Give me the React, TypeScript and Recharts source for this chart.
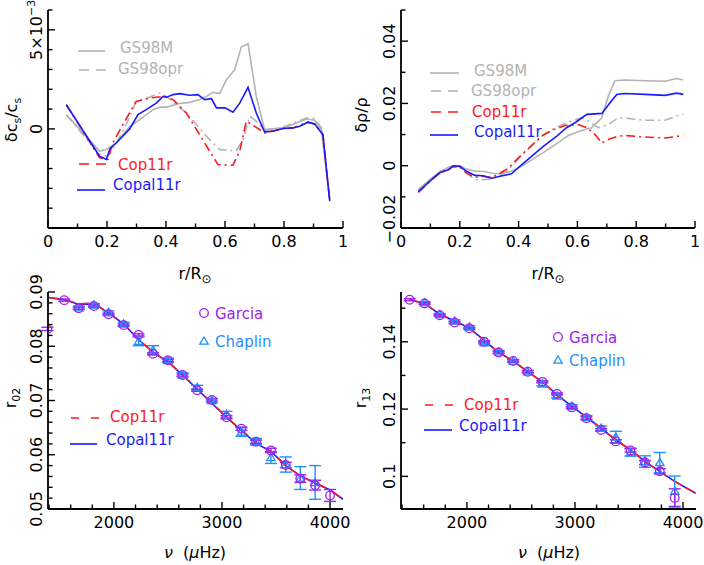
import React from "react";
import {
    ComposedChart,
    Line,
    Scatter,
    XAxis,
    YAxis,
    ErrorBar,
    Legend
} from "recharts";

const FONT = "'DejaVu Sans', sans-serif";
const GRAY = "#b3b3b3";
const RED = "#ff1a1a";
const BLUE = "#1a1aff";
const PURPLE = "#a020f0";
const SKY = "#1e90ff";

// ---- top left: sound speed differences (units of 1e-3) ----
const rCsGS98M = [0.062, 0.175, 0.198, 0.232, 0.277, 0.311, 0.356, 0.379, 0.401, 0.446, 0.480, 0.514, 0.537, 0.559, 0.582, 0.605, 0.633, 0.655, 0.678, 0.706, 0.734, 0.797, 0.830, 0.876, 0.904, 0.927, 0.955];
const csGS98M = [0.72, -1.12, -1.04, -0.70, 0.13, 0.47, 0.97, 1.10, 1.10, 1.28, 1.34, 1.48, 1.64, 1.85, 1.78, 2.48, 2.99, 4.13, 4.30, 1.64, -0.03, 0.05, 0.22, 0.50, 0.44, -0.03, -3.56];

const rCsGS98opr = [0.062, 0.175, 0.203, 0.232, 0.265, 0.299, 0.345, 0.379, 0.401, 0.435, 0.469, 0.503, 0.537, 0.582, 0.638, 0.661, 0.684, 0.706, 0.734, 0.797, 0.876, 0.904, 0.927, 0.955];
const csGS98opr = [0.72, -1.30, -1.38, -0.70, 0.22, 1.39, 1.61, 1.81, 1.64, 1.22, 0.80, 0.22, -0.37, -1.04, -1.12, -0.54, 0.64, 0.39, -0.07, 0.08, 0.55, 0.52, 0.05, -3.56];

const rCsCop11r = [0.062, 0.175, 0.203, 0.220, 0.254, 0.299, 0.345, 0.390, 0.424, 0.469, 0.514, 0.548, 0.576, 0.627, 0.650, 0.672, 0.701, 0.734, 0.797, 0.830, 0.881, 0.904, 0.932, 0.955];
const csCop11r = [1.22, -1.46, -1.54, -0.70, 0.22, 1.39, 1.56, 1.64, 1.48, 0.80, -0.29, -1.12, -1.80, -1.83, -1.12, 0.39, 0.13, -0.20, 0.02, 0.05, 0.34, 0.25, -0.29, -3.64];

const rCsCopal11r = [0.062, 0.175, 0.198, 0.210, 0.232, 0.277, 0.305, 0.333, 0.367, 0.390, 0.402, 0.424, 0.446, 0.480, 0.508, 0.531, 0.554, 0.571, 0.600, 0.627, 0.650, 0.678, 0.706, 0.734, 0.763, 0.797, 0.830, 0.853, 0.881, 0.904, 0.932, 0.955];
const csCopal11r = [1.22, -1.38, -1.54, -1.00, -0.70, 0.00, 0.72, 0.97, 1.30, 1.64, 1.60, 1.73, 1.78, 1.70, 1.73, 1.48, 1.53, 1.06, 1.06, 0.84, 1.30, 2.10, 0.80, -0.15, -0.12, 0.02, 0.05, 0.13, 0.34, 0.25, -0.29, -3.64];

// ---- top right: density differences ----
const rRhoGS98M = [0.059, 0.104, 0.133, 0.161, 0.178, 0.200, 0.223, 0.252, 0.280, 0.308, 0.337, 0.376, 0.410, 0.450, 0.490, 0.530, 0.569, 0.614, 0.648, 0.683, 0.705, 0.728, 0.762, 0.830, 0.898, 0.938, 0.960];
const rhoGS98M = [-0.0077, -0.0040, -0.0018, -0.0005, 0.0000, 0.0000, -0.0011, -0.0018, -0.0018, -0.0024, -0.0026, -0.0018, -0.0002, 0.0022, 0.0046, 0.0071, 0.0097, 0.0113, 0.0122, 0.0154, 0.0224, 0.0273, 0.0275, 0.0273, 0.0271, 0.0280, 0.0275];

const rRhoGS98opr = [0.059, 0.104, 0.133, 0.161, 0.178, 0.200, 0.223, 0.252, 0.280, 0.308, 0.337, 0.365, 0.399, 0.444, 0.484, 0.524, 0.569, 0.614, 0.643, 0.671, 0.705, 0.739, 0.762, 0.830, 0.898, 0.938, 0.960];
const rhoGS98opr = [-0.0080, -0.0042, -0.0020, -0.0008, -0.0003, -0.0004, -0.0024, -0.0045, -0.0045, -0.0043, -0.0032, -0.0013, 0.0022, 0.0062, 0.0100, 0.0122, 0.0140, 0.0154, 0.0140, 0.0122, 0.0132, 0.0154, 0.0153, 0.0146, 0.0146, 0.0160, 0.0165];

const rRhoCop11r = [0.059, 0.104, 0.133, 0.161, 0.178, 0.200, 0.223, 0.252, 0.280, 0.308, 0.337, 0.365, 0.399, 0.444, 0.478, 0.512, 0.558, 0.603, 0.632, 0.660, 0.683, 0.705, 0.739, 0.762, 0.830, 0.898, 0.938, 0.960];
const rhoCop11r = [-0.0086, -0.0045, -0.0022, -0.0013, -0.0002, -0.0004, -0.0024, -0.0037, -0.0034, -0.0038, -0.0024, -0.0008, 0.0025, 0.0065, 0.0095, 0.0113, 0.0129, 0.0132, 0.0122, 0.0100, 0.0073, 0.0084, 0.0095, 0.0097, 0.0092, 0.0089, 0.0094, 0.0097];

const rRhoCopal11r = [0.059, 0.104, 0.133, 0.161, 0.178, 0.200, 0.223, 0.252, 0.280, 0.308, 0.337, 0.376, 0.410, 0.444, 0.484, 0.530, 0.563, 0.592, 0.632, 0.683, 0.711, 0.734, 0.762, 0.830, 0.898, 0.938, 0.960];
const rhoCopal11r = [-0.0083, -0.0045, -0.0022, -0.0013, 0.0000, -0.0002, -0.0018, -0.0031, -0.0032, -0.0040, -0.0034, -0.0026, 0.0003, 0.0030, 0.0062, 0.0095, 0.0122, 0.0138, 0.0165, 0.0168, 0.0202, 0.0229, 0.0232, 0.0229, 0.0226, 0.0233, 0.0229];

// ---- bottom left: r02 ratios ----
const nuGarciaR02 = [1385, 1540, 1675, 1815, 1950, 2090, 2228, 2362, 2500, 2635, 2770, 2906, 3042, 3180, 3315, 3453, 3590, 3725, 3862, 4000];
const r02Garcia = [0.0832, 0.0885, 0.0870, 0.0874, 0.0859, 0.0839, 0.0821, 0.0786, 0.0774, 0.0747, 0.0719, 0.0701, 0.0669, 0.0648, 0.0624, 0.0608, 0.0581, 0.0556, 0.0544, 0.0525];
const errGarciaR02 = [0.0003, 0.0002, 0.0002, 0.0002, 0.0002, 0.0002, 0.0002, 0.0002, 0.0002, 0.0002, 0.0002, 0.0002, 0.0003, 0.0003, 0.0003, 0.0004, 0.0005, 0.0007, 0.0009, 0.0011];

const nuChaplinR02 = [1675, 1815, 1950, 2090, 2228, 2362, 2500, 2635, 2770, 2906, 3042, 3180, 3315, 3453, 3590, 3725, 3862];
const r02Chaplin = [0.0871, 0.0876, 0.0862, 0.0841, 0.0809, 0.0793, 0.0774, 0.0747, 0.0724, 0.0700, 0.0674, 0.0642, 0.0624, 0.0595, 0.0582, 0.0557, 0.0549];
const errChaplinR02 = [0.0003, 0.0003, 0.0003, 0.0003, 0.0008, 0.0008, 0.0004, 0.0004, 0.0004, 0.0004, 0.0006, 0.0008, 0.0006, 0.0011, 0.0014, 0.0021, 0.0031];

const nuModelR02 = [1390, 1540, 1675, 1815, 1950, 2090, 2228, 2362, 2500, 2635, 2770, 2906, 3042, 3180, 3315, 3453, 3590, 3725, 3862, 4000, 4120];
const r02Cop11r = [0.0890, 0.0886, 0.0878, 0.0880, 0.0861, 0.0841, 0.0813, 0.0789, 0.0772, 0.0747, 0.0721, 0.0696, 0.0669, 0.0646, 0.0622, 0.0606, 0.0580, 0.0561, 0.0548, 0.0535, 0.0518];
const r02Copal11r = [0.0890, 0.0886, 0.0877, 0.0878, 0.0862, 0.0841, 0.0812, 0.0789, 0.0771, 0.0747, 0.0721, 0.0695, 0.0669, 0.0645, 0.0621, 0.0606, 0.0580, 0.0561, 0.0548, 0.0535, 0.0518];

// ---- bottom right: r13 ratios ----
const nuGarciaR13 = [1470, 1608, 1748, 1886, 2022, 2160, 2294, 2428, 2563, 2698, 2834, 2970, 3106, 3242, 3378, 3514, 3648, 3785, 3923];
const r13Garcia = [0.1525, 0.1514, 0.1479, 0.1457, 0.1440, 0.1400, 0.1368, 0.1343, 0.1311, 0.1281, 0.1245, 0.1205, 0.1173, 0.1138, 0.1104, 0.1077, 0.1041, 0.1015, 0.0936];
const errGarciaR13 = [0.0003, 0.0003, 0.0003, 0.0003, 0.0003, 0.0003, 0.0003, 0.0003, 0.0003, 0.0003, 0.0003, 0.0003, 0.0004, 0.0004, 0.0005, 0.0005, 0.0006, 0.0008, 0.0027];

const nuChaplinR13 = [1608, 1748, 1886, 2022, 2160, 2294, 2428, 2563, 2698, 2834, 2970, 3106, 3242, 3378, 3514, 3648, 3785, 3923];
const r13Chaplin = [0.1516, 0.1481, 0.1462, 0.1444, 0.1397, 0.1370, 0.1343, 0.1311, 0.1275, 0.1239, 0.1208, 0.1175, 0.1143, 0.1117, 0.1072, 0.1044, 0.1041, 0.0956];
const errChaplinR13 = [0.0003, 0.0003, 0.0003, 0.0004, 0.0004, 0.0004, 0.0004, 0.0004, 0.0006, 0.0006, 0.0005, 0.0006, 0.0007, 0.0017, 0.0012, 0.0017, 0.0030, 0.0045];

const nuModelR13 = [1470, 1608, 1748, 1886, 2022, 2160, 2294, 2428, 2563, 2698, 2834, 2970, 3106, 3242, 3378, 3514, 3648, 3785, 3923, 4117];
const r13Cop11r = [0.1525, 0.1514, 0.1482, 0.1462, 0.1440, 0.1405, 0.1368, 0.1343, 0.1311, 0.1281, 0.1242, 0.1209, 0.1177, 0.1143, 0.1108, 0.1079, 0.1044, 0.1015, 0.0985, 0.0950];
const r13Copal11r = [0.1525, 0.1514, 0.1482, 0.1462, 0.1441, 0.1404, 0.1368, 0.1343, 0.1311, 0.1281, 0.1242, 0.1209, 0.1176, 0.1143, 0.1108, 0.1079, 0.1044, 0.1015, 0.0985, 0.0950];

// ---- ticks ----
const radiusTicks = [0, 0.1, 0.2, 0.3, 0.4, 0.5, 0.6, 0.7, 0.8, 0.9, 1];
const radiusLabels = [0, 0.2, 0.4, 0.6, 0.8, 1];
const csTicks = [-5, -4, -3, -2, -1, 0, 1, 2, 3, 4, 5, 6];
const rhoTicks = [-0.02, -0.01, 0, 0.01, 0.02, 0.03, 0.04, 0.05];
const rhoLabels = [-0.02, 0, 0.02, 0.04];
const nuTicks = [1400, 1600, 1800, 2000, 2200, 2400, 2600, 2800, 3000, 3200, 3400, 3600, 3800, 4000];
const nuLabels = [2000, 3000, 4000];
const r02Ticks = [0.05, 0.052, 0.054, 0.056, 0.058, 0.06, 0.062, 0.064, 0.066, 0.068, 0.07, 0.072, 0.074, 0.076, 0.078, 0.08, 0.082, 0.084, 0.086, 0.088, 0.09];
const r02Labels = [0.05, 0.06, 0.07, 0.08, 0.09];
const r13Ticks = [0.1, 0.11, 0.12, 0.13, 0.14, 0.15];
const r13Labels = [0.1, 0.12, 0.14];

type Pt = { x: number; y: number; err?: number };
const zip = (xs: number[], ys: number[], es?: number[]): Pt[] =>
    xs.map((x, i) => ({ x, y: ys[i], err: es ? es[i] : undefined }));

type Lbl = { v: number; t: React.ReactNode; shift?: number };
const near = (a: number, b: number) => Math.abs(a - b) < 1e-9;

const plain = (vals: number[]): Lbl[] =>
    vals.map((v) => ({ v, t: String(v).replace("-", "\u2212") }));

type Side = "bottom" | "top" | "left" | "right";

function axisTick(side: Side, labels: Lbl[]) {
    return (props: any) => {
        const { x, y, payload } = props;
        const lab = labels.find((l) => near(l.v, payload.value));
        const len = lab ? 7 : 4.5;
        const ln = { stroke: "#000", strokeWidth: 1.4 };
        let line = null;
        if (side === "bottom") line = <line x1={x} y1={y} x2={x} y2={y - len} {...ln} />;
        if (side === "top") line = <line x1={x} y1={y} x2={x} y2={y + len} {...ln} />;
        if (side === "left") line = <line x1={x} y1={y} x2={x + len} y2={y} {...ln} />;
        if (side === "right") line = <line x1={x} y1={y} x2={x - len} y2={y} {...ln} />;
        let text = null;
        if (lab && side === "bottom") {
            text = (
                <text x={x} y={y + 19} textAnchor="middle" fontSize={16} fontFamily={FONT} fill="#000">
                    {lab.t}
                </text>
            );
        }
        if (lab && side === "left") {
            const tx = x - 6;
            const ty = y + (lab.shift || 0);
            text = (
                <text transform={`translate(${tx},${ty}) rotate(-90)`} textAnchor="middle" fontSize={16} fontFamily={FONT} fill="#000">
                    {lab.t}
                </text>
            );
        }
        return <g>{line}{text}</g>;
    };
}

const ring = (p: any) =>
    p.cx == null ? <g /> : <circle cx={p.cx} cy={p.cy} r={4.3} fill="none" stroke={PURPLE} strokeWidth={1.3} />;

const tri = (p: any) => {
    if (p.cx == null) return <g />;
    const s = 4.2;
    return (
        <polygon
            points={`${p.cx},${p.cy - s} ${p.cx - s},${p.cy + s * 0.75} ${p.cx + s},${p.cy + s * 0.75}`}
            fill="none"
            stroke={SKY}
            strokeWidth={1.3}
        />
    );
};

interface PanelProps {
    left: number;
    top: number;
    width: number;
    height: number;
    margin: { top: number; right: number; bottom: number; left: number };
    yAxisWidth: number;
    xAxisHeight: number;
    xDomain: [number, number];
    yDomain: [number, number];
    xTicks: number[];
    yTicks: number[];
    xLabels: Lbl[];
    yLabels: Lbl[];
    overlay: React.ReactNode;
    children: React.ReactNode;
}

function Panel(p: PanelProps) {
    const frame = { stroke: "#000", strokeWidth: 1.8 };
    return (
        <div style={{ position: "absolute", left: p.left, top: p.top }}>
            <ComposedChart width={p.width} height={p.height} margin={p.margin}>
                <XAxis
                    type="number"
                    dataKey="x"
                    domain={p.xDomain}
                    allowDataOverflow
                    ticks={p.xTicks}
                    interval={0}
                    height={p.xAxisHeight}
                    tickSize={0}
                    tickMargin={0}
                    tickLine={false}
                    axisLine={frame}
                    tick={axisTick("bottom", p.xLabels)}
                />
                <XAxis
                    xAxisId="top"
                    orientation="top"
                    type="number"
                    domain={p.xDomain}
                    allowDataOverflow
                    ticks={p.xTicks}
                    interval={0}
                    height={0}
                    tickSize={0}
                    tickMargin={0}
                    tickLine={false}
                    axisLine={frame}
                    tick={axisTick("top", p.xLabels)}
                />
                <YAxis
                    type="number"
                    dataKey="y"
                    domain={p.yDomain}
                    allowDataOverflow
                    ticks={p.yTicks}
                    interval={0}
                    width={p.yAxisWidth}
                    tickSize={0}
                    tickMargin={0}
                    tickLine={false}
                    axisLine={frame}
                    tick={axisTick("left", p.yLabels)}
                />
                <YAxis
                    yAxisId="right"
                    orientation="right"
                    type="number"
                    domain={p.yDomain}
                    allowDataOverflow
                    ticks={p.yTicks}
                    interval={0}
                    width={0}
                    tickSize={0}
                    tickMargin={0}
                    tickLine={false}
                    axisLine={frame}
                    tick={axisTick("right", p.yLabels)}
                />
                {p.children}
                <Legend
                    layout="vertical"
                    align="center"
                    verticalAlign="middle"
                    wrapperStyle={{ left: 0, top: 0, width: 0, height: 0, overflow: "visible" }}
                    content={() => (
                        <svg
                            width={p.width}
                            height={p.height}
                            style={{ position: "absolute", left: 0, top: 0, overflow: "visible" }}
                            fontFamily={FONT}
                        >
                            {p.overlay}
                        </svg>
                    )}
                />
            </ComposedChart>
        </div>
    );
}

interface KeyProps {
    x1: number;
    x2: number;
    y: number;
    tx: number;
    ty: number;
    color: string;
    textColor?: string;
    dash?: string;
    label: string;
}

function KeyLine({ x1, x2, y, tx, ty, color, textColor, dash, label }: KeyProps) {
    return (
        <g>
            <line x1={x1} x2={x2} y1={y} y2={y} stroke={color} strokeWidth={1.6} strokeDasharray={dash} />
            <text x={tx} y={ty} fontSize={15} fill={textColor || color}>{label}</text>
        </g>
    );
}

const dashDot = "9 4 2 4";

export default function App() {
    const csLabels: Lbl[] = [
        { v: 0, t: "0" },
        { v: 5, t: <>5×10<tspan dy={-7} fontSize={11}>−3</tspan></> }
    ];
    const rhoLbls: Lbl[] = plain(rhoLabels).map((l) => (near(l.v, -0.02) ? { ...l, shift: -9 } : l));

    return (
        <div style={{ position: "absolute", left: 0, top: 0, width: 704, height: 565, background: "#fff" }}>
            <Panel
                left={0}
                top={0}
                width={352}
                height={280}
                margin={{ top: 10, right: 9, bottom: 0, left: 0 }}
                yAxisWidth={48}
                xAxisHeight={52}
                xDomain={[0, 1]}
                yDomain={[-5, 6]}
                xTicks={radiusTicks}
                yTicks={csTicks}
                xLabels={plain(radiusLabels)}
                yLabels={csLabels}
                overlay={
                    <>
                        <KeyLine x1={78} x2={105} y={51} tx={120} ty={53} color={GRAY} label="GS98M" />
                        <KeyLine x1={79} x2={107} y={70} tx={118} ty={74} color={GRAY} dash="10 7" label="GS98opr" />
                        <KeyLine x1={79} x2={107} y={164} tx={118} ty={170} color={RED} dash="10 7" label="Cop11r" />
                        <KeyLine x1={77} x2={105} y={190} tx={113} ty={190} color={BLUE} label="Copal11r" />
                        <text transform="translate(17,120) rotate(-90)" textAnchor="middle" fontSize={16}>
                            δc<tspan dy={4} fontSize={11}>s</tspan><tspan dy={-4}>/c</tspan><tspan dy={4} fontSize={11}>s</tspan>
                        </text>
                        <text x={195} y={279} textAnchor="middle" fontSize={16}>
                            r/R<tspan dy={4} fontSize={12}>⊙</tspan>
                        </text>
                    </>
                }
            >
                <Line data={zip(rCsGS98M, csGS98M)} dataKey="y" type="linear" stroke={GRAY} strokeWidth={1.6} dot={false} isAnimationActive={false} />
                <Line data={zip(rCsGS98opr, csGS98opr)} dataKey="y" type="linear" stroke={GRAY} strokeWidth={1.6} strokeDasharray={dashDot} dot={false} isAnimationActive={false} />
                <Line data={zip(rCsCop11r, csCop11r)} dataKey="y" type="linear" stroke={RED} strokeWidth={1.6} strokeDasharray={dashDot} dot={false} isAnimationActive={false} />
                <Line data={zip(rCsCopal11r, csCopal11r)} dataKey="y" type="linear" stroke={BLUE} strokeWidth={1.6} dot={false} isAnimationActive={false} />
            </Panel>

            <Panel
                left={352}
                top={0}
                width={352}
                height={280}
                margin={{ top: 10, right: 9, bottom: 0, left: 0 }}
                yAxisWidth={49}
                xAxisHeight={52}
                xDomain={[0, 1]}
                yDomain={[-0.02, 0.05]}
                xTicks={radiusTicks}
                yTicks={rhoTicks}
                xLabels={plain(radiusLabels)}
                yLabels={rhoLbls}
                overlay={
                    <>
                        <KeyLine x1={78} x2={107} y={73} tx={122} ty={76} color={GRAY} label="GS98M" />
                        <KeyLine x1={79} x2={107} y={91} tx={119} ty={96} color={GRAY} dash="10 7" label="GS98opr" />
                        <KeyLine x1={79} x2={107} y={112} tx={120} ty={117} color={RED} dash="10 7" label="Cop11r" />
                        <KeyLine x1={78} x2={106} y={135} tx={122} ty={137} color={BLUE} label="Copal11r" />
                        <text transform="translate(15,115) rotate(-90)" textAnchor="middle" fontSize={16}>
                            δρ/ρ
                        </text>
                        <text x={196} y={279} textAnchor="middle" fontSize={16}>
                            r/R<tspan dy={4} fontSize={12}>⊙</tspan>
                        </text>
                    </>
                }
            >
                <Line data={zip(rRhoGS98M, rhoGS98M)} dataKey="y" type="linear" stroke={GRAY} strokeWidth={1.6} dot={false} isAnimationActive={false} />
                <Line data={zip(rRhoGS98opr, rhoGS98opr)} dataKey="y" type="linear" stroke={GRAY} strokeWidth={1.6} strokeDasharray={dashDot} dot={false} isAnimationActive={false} />
                <Line data={zip(rRhoCop11r, rhoCop11r)} dataKey="y" type="linear" stroke={RED} strokeWidth={1.6} strokeDasharray={dashDot} dot={false} isAnimationActive={false} />
                <Line data={zip(rRhoCopal11r, rhoCopal11r)} dataKey="y" type="linear" stroke={BLUE} strokeWidth={1.6} dot={false} isAnimationActive={false} />
            </Panel>

            <Panel
                left={0}
                top={270}
                width={352}
                height={295}
                margin={{ top: 22, right: 9, bottom: 0, left: 0 }}
                yAxisWidth={48}
                xAxisHeight={56}
                xDomain={[1390, 4120]}
                yDomain={[0.05, 0.09]}
                xTicks={nuTicks}
                yTicks={r02Ticks}
                xLabels={plain(nuLabels)}
                yLabels={plain(r02Labels)}
                overlay={
                    <>
                        <circle cx={204} cy={43} r={4.3} fill="none" stroke={PURPLE} strokeWidth={1.3} />
                        <text x={215} y={49} fontSize={15} fill={PURPLE}>Garcia</text>
                        <polygon points="204,67 199.8,74.2 208.2,74.2" fill="none" stroke={SKY} strokeWidth={1.3} />
                        <text x={215} y={77} fontSize={15} fill={SKY}>Chaplin</text>
                        <KeyLine x1={71} x2={99} y={148} tx={110} ty={152} color={RED} dash="8 12" label="Cop11r" />
                        <KeyLine x1={70} x2={97} y={174} tx={106} ty={175} color={BLUE} label="Copal11r" />
                        <text transform="translate(16,128) rotate(-90)" textAnchor="middle" fontSize={16}>
                            r<tspan dy={4} fontSize={11}>02</tspan>
                        </text>
                        <text x={195} y={288} textAnchor="middle" fontSize={16}>
                            <tspan fontStyle="italic">ν</tspan>{"\u00a0\u00a0("}<tspan fontStyle="italic">μ</tspan>Hz)
                        </text>
                    </>
                }
            >
                <Line data={zip(nuModelR02, r02Copal11r)} dataKey="y" type="linear" stroke={BLUE} strokeWidth={1.6} dot={false} isAnimationActive={false} />
                <Line data={zip(nuModelR02, r02Cop11r)} dataKey="y" type="linear" stroke={RED} strokeWidth={1.6} strokeDasharray="10 6" dot={false} isAnimationActive={false} />
                <Scatter data={zip(nuChaplinR02, r02Chaplin, errChaplinR02)} dataKey="y" shape={tri} isAnimationActive={false}>
                    <ErrorBar dataKey="err" direction="y" width={6} stroke={SKY} strokeWidth={1.4} />
                </Scatter>
                <Scatter data={zip(nuGarciaR02, r02Garcia, errGarciaR02)} dataKey="y" shape={ring} isAnimationActive={false}>
                    <ErrorBar dataKey="err" direction="y" width={6} stroke={PURPLE} strokeWidth={1.4} />
                </Scatter>
            </Panel>

            <Panel
                left={352}
                top={270}
                width={352}
                height={295}
                margin={{ top: 22, right: 8, bottom: 0, left: 0 }}
                yAxisWidth={49}
                xAxisHeight={56}
                xDomain={[1390, 4120]}
                yDomain={[0.0903, 0.1548]}
                xTicks={nuTicks}
                yTicks={r13Ticks}
                xLabels={plain(nuLabels)}
                yLabels={plain(r13Labels)}
                overlay={
                    <>
                        <circle cx={206} cy={67} r={4.3} fill="none" stroke={PURPLE} strokeWidth={1.3} />
                        <text x={217} y={73} fontSize={15} fill={PURPLE}>Garcia</text>
                        <polygon points="206,86 201.8,93.2 210.2,93.2" fill="none" stroke={SKY} strokeWidth={1.3} />
                        <text x={217} y={96} fontSize={15} fill={SKY}>Chaplin</text>
                        <KeyLine x1={73} x2={101} y={135} tx={112} ty={140} color={RED} dash="8 12" label="Cop11r" />
                        <KeyLine x1={72} x2={100} y={160} tx={107} ty={161} color={BLUE} label="Copal11r" />
                        <text transform="translate(14,128) rotate(-90)" textAnchor="middle" fontSize={16}>
                            r<tspan dy={4} fontSize={11}>13</tspan>
                        </text>
                        <text x={197} y={288} textAnchor="middle" fontSize={16}>
                            <tspan fontStyle="italic">ν</tspan>{"\u00a0\u00a0("}<tspan fontStyle="italic">μ</tspan>Hz)
                        </text>
                    </>
                }
            >
                <Line data={zip(nuModelR13, r13Copal11r)} dataKey="y" type="linear" stroke={BLUE} strokeWidth={1.6} dot={false} isAnimationActive={false} />
                <Line data={zip(nuModelR13, r13Cop11r)} dataKey="y" type="linear" stroke={RED} strokeWidth={1.6} strokeDasharray="10 6" dot={false} isAnimationActive={false} />
                <Scatter data={zip(nuChaplinR13, r13Chaplin, errChaplinR13)} dataKey="y" shape={tri} isAnimationActive={false}>
                    <ErrorBar dataKey="err" direction="y" width={6} stroke={SKY} strokeWidth={1.4} />
                </Scatter>
                <Scatter data={zip(nuGarciaR13, r13Garcia, errGarciaR13)} dataKey="y" shape={ring} isAnimationActive={false}>
                    <ErrorBar dataKey="err" direction="y" width={6} stroke={PURPLE} strokeWidth={1.4} />
                </Scatter>
            </Panel>
        </div>
    );
}
